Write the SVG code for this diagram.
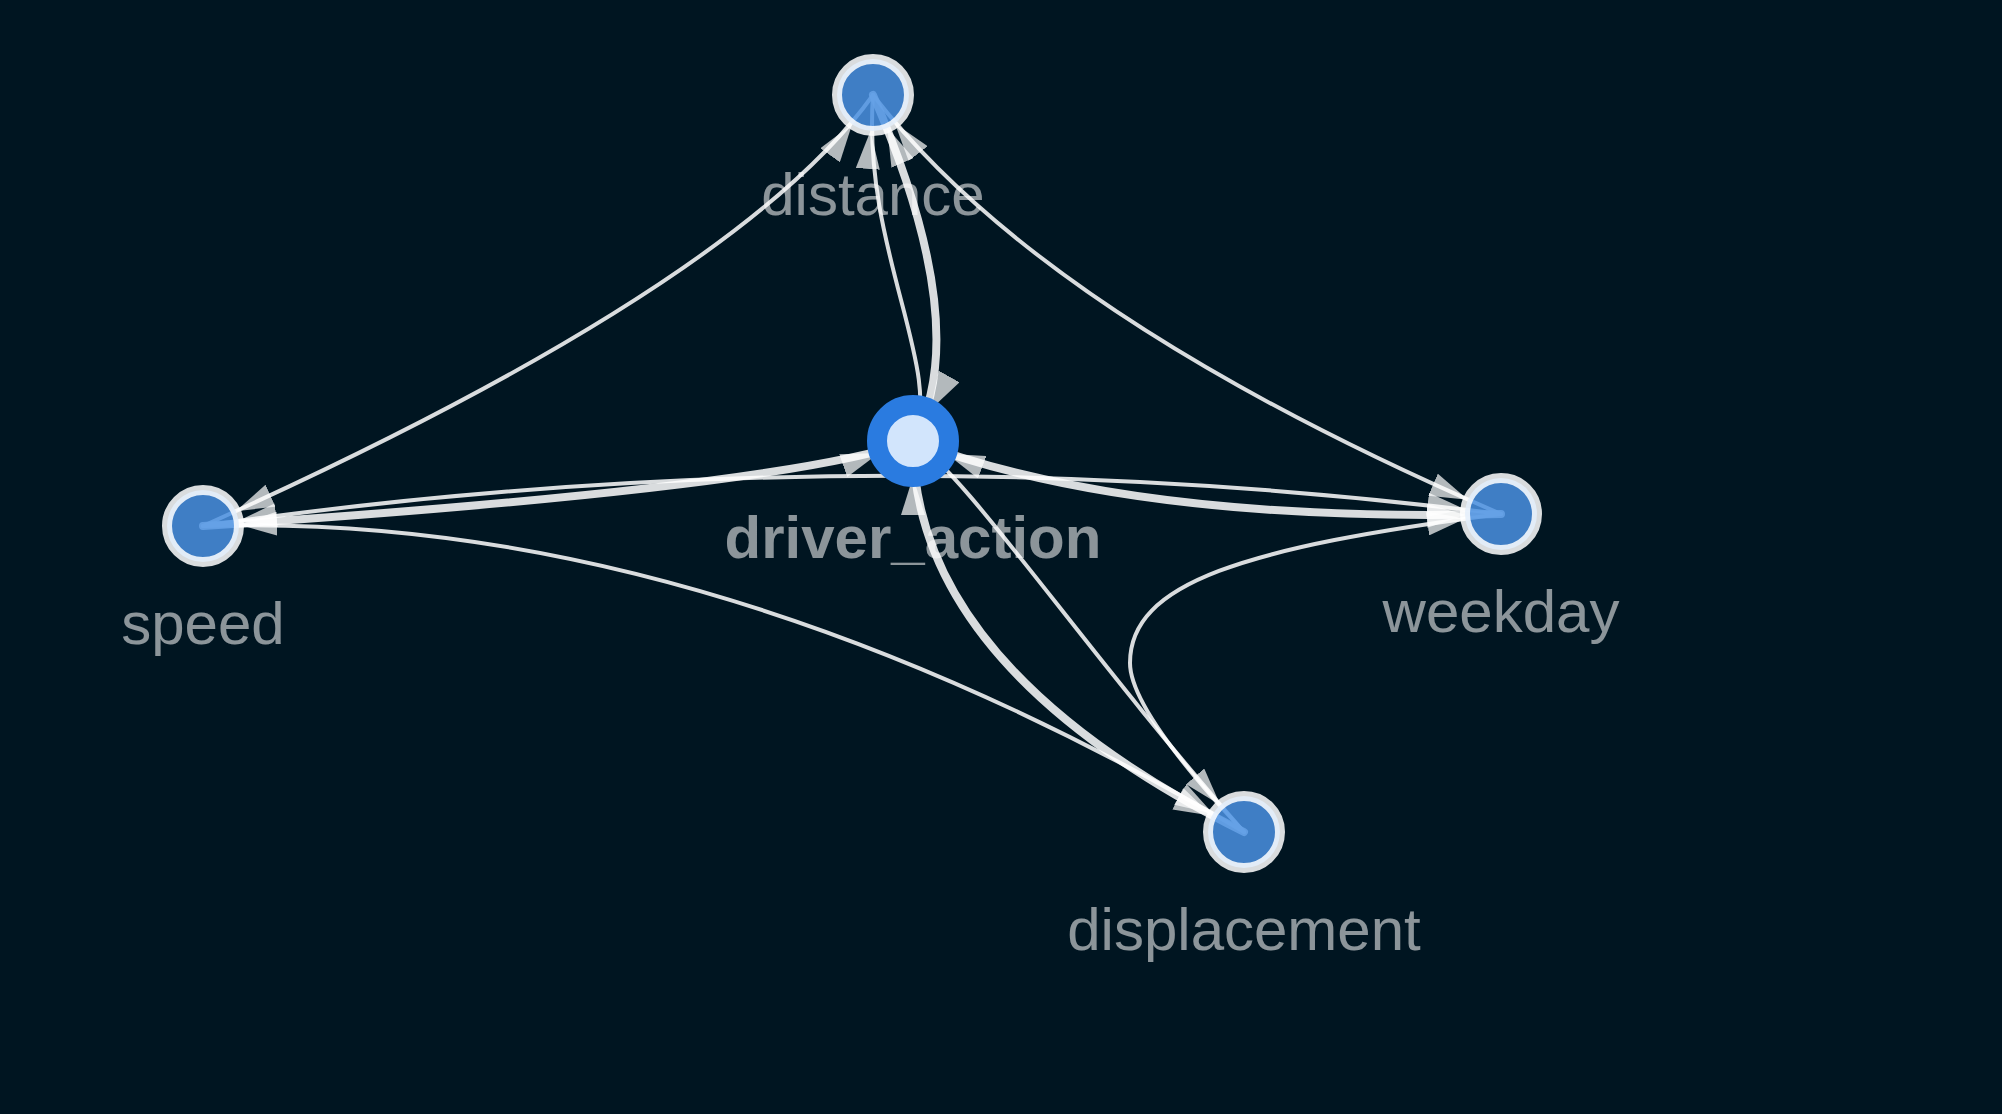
<svg xmlns="http://www.w3.org/2000/svg" width="2002" height="1114" viewBox="0 0 2002 1114">
<style>
.e{fill:none;stroke:#ffffff;stroke-opacity:0.85;stroke-linecap:round}
.thin{stroke-width:4}
.thick{stroke-width:8}
.one{marker-end:url(#ah)}
.both{marker-start:url(#ah);marker-end:url(#ah)}
.n{fill:#4a90e2;fill-opacity:0.85;stroke:#ffffff;stroke-opacity:0.85;stroke-width:10}
.hub{fill:#d2e5fc;stroke:#2a7be0;stroke-width:20}
.lbl{font-family:"Liberation Sans",Arial,Helvetica,sans-serif;font-size:60px;fill:#ffffff;fill-opacity:0.55;text-anchor:middle}
.bold{font-weight:bold}
</style>
<defs>
<marker id="ah" viewBox="0 0 38 24" refX="74" refY="12" markerWidth="38" markerHeight="24" markerUnits="userSpaceOnUse" orient="auto-start-reverse">
<path d="M0,0 L38,12 L0,24 Z" fill="#ffffff" fill-opacity="0.7"/>
</marker>
</defs>
<rect x="0" y="0" width="2002" height="1114" fill="#001521"/>
<g id="connectors">
<path id="e-speed-distance" class="e thin both" d="M203,526 Q737,286 873,95"/>
<path id="e-distance-weekday" class="e thin both" d="M873,95 Q1044,317 1501,514"/>
<path id="e-driver-distance" class="e thin one" d="M913,441 C945,370 862,250 873,95"/>
<path id="e-distance-driver" class="e thick both" d="M873,95 Q975,330 913,441"/>
<path id="e-speed-driver" class="e thick one" d="M203,526 Q780,488 913,441"/>
<path id="e-speed-weekday" class="e thin both" d="M203,526 Q850,432 1501,514"/>
<path id="e-weekday-driver" class="e thick both" d="M1501,514 Q1130,523 913,441"/>
<path id="e-speed-displacement" class="e thin both" d="M203,526 Q700,510 1244,832"/>
<path id="e-driver-displacement-thick" class="e thick both" d="M913,441 Q913,666 1244,832"/>
<path id="e-driver-displacement" class="e thin one" d="M913,441 C965,472 1079,644 1244,832"/>
<path id="e-displacement-weekday" class="e thin one" d="M1244,832 Q1130,710 1130,663 C1130,583 1243.6,547.3 1501,514"/>
</g>
<g id="node-distance">
<circle class="n" cx="873" cy="95" r="36"/>
<text class="lbl" x="873" y="215">distance</text>
</g>
<g id="node-driver_action">
<circle class="hub" cx="913" cy="441" r="36"/>
<text class="lbl bold" x="913" y="558">driver_action</text>
</g>
<g id="node-speed">
<circle class="n" cx="203" cy="526" r="36"/>
<text class="lbl" x="203" y="644">speed</text>
</g>
<g id="node-weekday">
<circle class="n" cx="1501" cy="514" r="36"/>
<text class="lbl" x="1501" y="632">weekday</text>
</g>
<g id="node-displacement">
<circle class="n" cx="1244" cy="832" r="36"/>
<text class="lbl" x="1244" y="950">displacement</text>
</g>
</svg>
